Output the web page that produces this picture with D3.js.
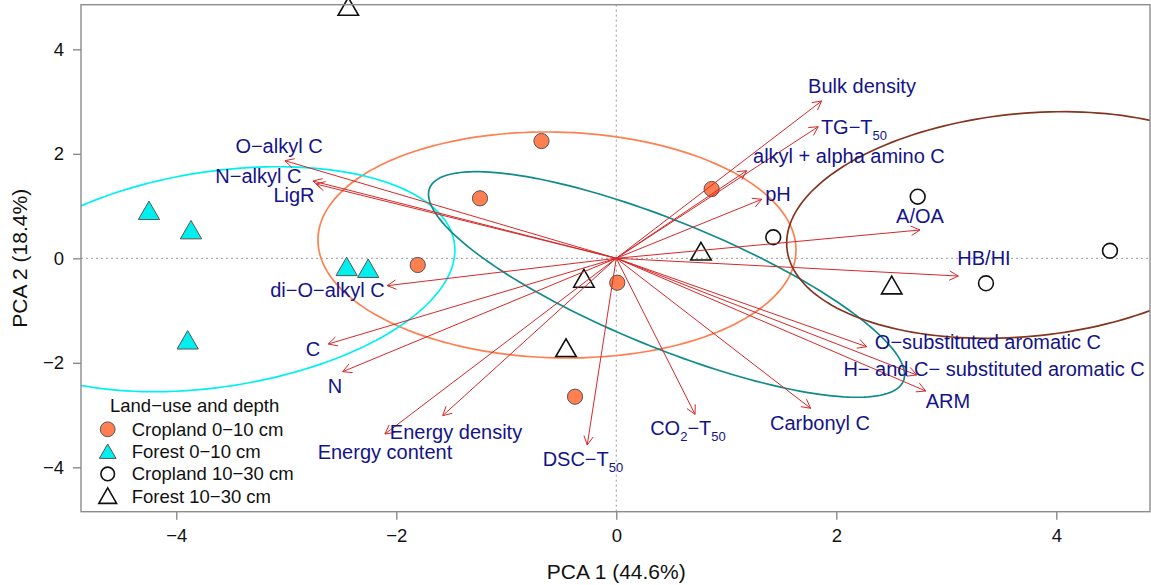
<!DOCTYPE html>
<html>
<head>
<meta charset="utf-8">
<script src="https://cdn.jsdelivr.net/npm/d3@7"></script>
<style>
  body { margin: 0; background: #fff; }
  text { font-family: "Liberation Sans", Arial, Helvetica, sans-serif; }
</style>
</head>
<body>
<script>
// sample scores
var groups = ["Cropland 0\u221210 cm", "Forest 0\u221210 cm", "Cropland 10\u221230 cm", "Forest 10\u221230 cm"];
var crop0x = [-0.68, -1.239, -1.805, 0.009, 0.867, -0.375];
var crop0y = [2.245, 1.148, -0.128, -0.467, 1.326, -2.649];
var forest0x = [-4.248, -3.866, -2.451, -2.255, -3.896];
var forest0y = [0.859, 0.49, -0.214, -0.249, -1.619];
var crop1x = [2.74, 1.427, 4.488, 3.361];
var crop1y = [1.179, 0.402, 0.145, -0.478];
var forest1x = [-2.436, 0.77, -0.294, 2.504, -0.457];
var forest1y = [4.764, 0.08, -0.44, -0.568, -1.767];

// variable loadings (arrow tips) and where the labels sit
var varNames = ["Bulk density", "TG\u2212T_{50}", "alkyl + alpha amino C", "pH", "A/OA", "HB/HI",
  "O\u2212substituted aromatic C", "H\u2212 and C\u2212 substituted aromatic C", "ARM", "Carbonyl C",
  "CO_{2}\u2212T_{50}", "DSC\u2212T_{50}", "Energy density", "Energy content", "N", "C",
  "di\u2212O\u2212alkyl C", "LigR", "N\u2212alkyl C", "O\u2212alkyl C"];
var varX = [1.867, 1.836, 1.185, 1.322, 2.761, 3.109, 2.276, 2.731, 2.813, 1.767,
  0.716, -0.264, -1.578, -2.103, -2.487, -2.618, -2.082, -2.73, -2.757, -3.012];
var varY = [3.011, 2.519, 1.677, 1.129, 0.542, -0.339, -1.692, -2.233, -2.54, -2.871,
  -2.986, -3.573, -3.012, -3.363, -2.17, -1.64, -0.524, 1.422, 1.479, 1.868];
var labX = [2.234, 2.161, 2.115, 1.47, 2.761, 3.343, 3.379, 3.434, 3.015, 1.852,
  0.652, -0.303, -1.457, -2.103, -2.557, -2.758, -2.625, -2.93, -3.253, -3.066];
var labY = [3.298, 2.513, 1.958, 1.231, 0.81, 0.006, -1.602, -2.119, -2.731, -3.152,
  -3.248, -3.841, -3.324, -3.707, -2.442, -1.736, -0.607, 1.206, 1.575, 2.147];

// group ellipses: centre, half ranges, phase (deg)
var ellCx = [-0.539, -3.64, 0.457, 3.714];
var ellCy = [0.255, -0.40, -0.501, 0.637];
var ellAx = [2.173, 2.173, 2.164, 2.165];
var ellAy = [2.163, 2.153, 2.159, 2.169];
var ellPhase = [92.5, 75.0, 143.1, 80.8];

var xTicks = [-4, -2, 0, 2, 4],
    yTicks = [-4, -2, 0, 2, 4];

var w = 1151, h = 585;
var pLeft = 81, pRight = 1150, pTop = 4.7, pBottom = 511.7;

var svg = d3.select("body").append("svg")
    .attr("width", w)
    .attr("height", h)
    .style("background", "#fff");

var x = d3.scaleLinear().domain([-4.866, 4.852]).range([pLeft, pRight]);
var y = d3.scaleLinear().domain([-4.85, 4.854]).range([pBottom, pTop]);

var ellColors = ["#ff7f50", "#00f0f0", "#108b8b", "#83351f"];

svg.append("clipPath").attr("id", "plotclip")
  .append("rect")
    .attr("x", pLeft).attr("y", pTop)
    .attr("width", pRight - pLeft).attr("height", pBottom - pTop);

// dotted zero lines
svg.append("line")
    .attr("x1", pLeft).attr("x2", pRight)
    .attr("y1", y(0)).attr("y2", y(0))
    .attr("stroke", "#9a9a9a").attr("stroke-dasharray", "2,3");
svg.append("line")
    .attr("x1", x(0)).attr("x2", x(0))
    .attr("y1", pTop).attr("y2", pBottom)
    .attr("stroke", "#9a9a9a").attr("stroke-dasharray", "2,3");

// ellipses
var line = d3.line();
svg.append("g").attr("clip-path", "url(#plotclip)")
  .selectAll("path")
    .data(d3.range(4))
  .enter().append("path")
    .attr("fill", "none")
    .attr("stroke", function(i) { return ellColors[i]; })
    .attr("stroke-width", 1.7)
    .attr("d", function(i) {
      var ph = ellPhase[i] * Math.PI / 180;
      var pts = d3.range(0, 361, 2).map(function(t) {
        var a = t * Math.PI / 180;
        return [x(ellCx[i] + ellAx[i] * Math.cos(a)), y(ellCy[i] + ellAy[i] * Math.cos(a - ph))];
      });
      return line(pts) + "Z";
    });

// triangle like R's pch 2 / 24
function tri(cx, cy, s) {
  var r = 1.555 * s, hw = 1.347 * s, yb = 0.778 * s;
  return "M" + cx + "," + (cy - r) + "L" + (cx + hw) + "," + (cy + yb) + "L" + (cx - hw) + "," + (cy + yb) + "Z";
}

var pts = svg.append("g");
pts.selectAll("circle.c0")
    .data(d3.range(crop0x.length))
  .enter().append("circle")
    .attr("cx", function(i) { return x(crop0x[i]); })
    .attr("cy", function(i) { return y(crop0y[i]); })
    .attr("r", 7.6)
    .attr("fill", "#ff7f50")
    .attr("stroke", "#555").attr("stroke-width", 1);
pts.selectAll("path.f0")
    .data(d3.range(forest0x.length))
  .enter().append("path")
    .attr("d", function(i) { return tri(x(forest0x[i]), y(forest0y[i]), 7.9); })
    .attr("fill", "#00f0f0")
    .attr("stroke", "#555").attr("stroke-width", 1);
pts.selectAll("circle.c1")
    .data(d3.range(crop1x.length))
  .enter().append("circle")
    .attr("cx", function(i) { return x(crop1x[i]); })
    .attr("cy", function(i) { return y(crop1y[i]); })
    .attr("r", 7.4)
    .attr("fill", "none")
    .attr("stroke", "#111").attr("stroke-width", 1.6);
pts.selectAll("path.f1")
    .data(d3.range(forest1x.length))
  .enter().append("path")
    .attr("d", function(i) { return tri(x(forest1x[i]), y(forest1y[i]), 7.6); })
    .attr("fill", "none")
    .attr("stroke", "#111").attr("stroke-width", 1.6);

// loading arrows
var arr = svg.append("g")
    .attr("stroke", "#d62828")
    .attr("stroke-width", 1)
    .attr("fill", "none");
d3.range(varNames.length).forEach(function(i) {
  var x0 = x(0), y0 = y(0), x1 = x(varX[i]), y1 = y(varY[i]);
  var ang = Math.atan2(y1 - y0, x1 - x0), L = 10, da = 28 * Math.PI / 180;
  arr.append("path")
    .attr("d", "M" + x0 + "," + y0 + "L" + x1 + "," + y1 +
      "M" + (x1 - L * Math.cos(ang - da)) + "," + (y1 - L * Math.sin(ang - da)) +
      "L" + x1 + "," + y1 +
      "L" + (x1 - L * Math.cos(ang + da)) + "," + (y1 - L * Math.sin(ang + da)));
});

// labels, "_{..}" becomes a subscript
var labs = svg.append("g")
    .attr("fill", "#13138a")
    .attr("font-size", 20)
    .attr("text-anchor", "middle");
d3.range(varNames.length).forEach(function(i) {
  var t = labs.append("text")
      .attr("x", x(labX[i]))
      .attr("y", y(labY[i]))
      .attr("dy", "0.35em");
  var parts = varNames[i].split(/(_\{[^}]*\})/);
  var sub = false;
  parts.forEach(function(p) {
    if (!p) return;
    if (p[0] === "_") {
      t.append("tspan").attr("dy", 6).attr("font-size", 13).text(p.slice(2, -1));
      sub = true;
    } else {
      t.append("tspan").attr("dy", sub ? -6 : null).text(p);
      sub = false;
    }
  });
});

// frame and axes
svg.append("rect")
    .attr("x", pLeft).attr("y", pTop)
    .attr("width", pRight - pLeft).attr("height", pBottom - pTop)
    .attr("fill", "none").attr("stroke", "#8c8c8c").attr("stroke-width", 1.4);

var xAxis = svg.append("g")
    .attr("transform", "translate(0," + pBottom + ")")
    .call(d3.axisBottom(x).tickValues(xTicks).tickSize(8).tickPadding(9));
var yAxis = svg.append("g")
    .attr("transform", "translate(" + pLeft + ",0)")
    .call(d3.axisLeft(y).tickValues(yTicks).tickSize(8).tickPadding(9));
[xAxis, yAxis].forEach(function(a) {
  a.select(".domain").remove();
  a.selectAll("line").attr("stroke", "#8c8c8c").attr("stroke-width", 1.4);
  a.selectAll("text").attr("font-size", 18.5).attr("fill", "#111")
    .style("font-family", "'Liberation Sans', Arial, sans-serif");
});

svg.append("text")
    .attr("x", x(0)).attr("y", 572).attr("dy", "0.35em")
    .attr("text-anchor", "middle").attr("font-size", 21).attr("fill", "#111")
    .text("PCA 1 (44.6%)");
svg.append("text")
    .attr("transform", "translate(20," + y(0) + ") rotate(-90)")
    .attr("dy", "0.35em")
    .attr("text-anchor", "middle").attr("font-size", 21).attr("fill", "#111")
    .text("PCA 2 (18.4%)");

// legend
var lg = svg.append("g").attr("font-size", 18.5).attr("fill", "#111");
lg.append("text").attr("x", 110).attr("y", 406).attr("dy", "0.35em").text("Land\u2212use and depth");
groups.forEach(function(g, i) {
  var yy = 429.3 + i * 22.3, sx = 107.7;
  if (i === 0) lg.append("circle").attr("cx", sx).attr("cy", yy).attr("r", 7.4)
      .attr("fill", "#ff7f50").attr("stroke", "#555");
  if (i === 1) lg.append("path").attr("d", tri(sx, yy + 2, 6.2))
      .attr("fill", "#00f0f0").attr("stroke", "#555");
  if (i === 2) lg.append("circle").attr("cx", sx).attr("cy", yy).attr("r", 6.8)
      .attr("fill", "none").attr("stroke", "#111").attr("stroke-width", 1.6);
  if (i === 3) lg.append("path").attr("d", tri(sx, yy + 2, 6.6))
      .attr("fill", "none").attr("stroke", "#111").attr("stroke-width", 1.6);
  lg.append("text").attr("x", 131.7).attr("y", yy).attr("dy", "0.35em").text(g);
});
</script>
</body>
</html>
